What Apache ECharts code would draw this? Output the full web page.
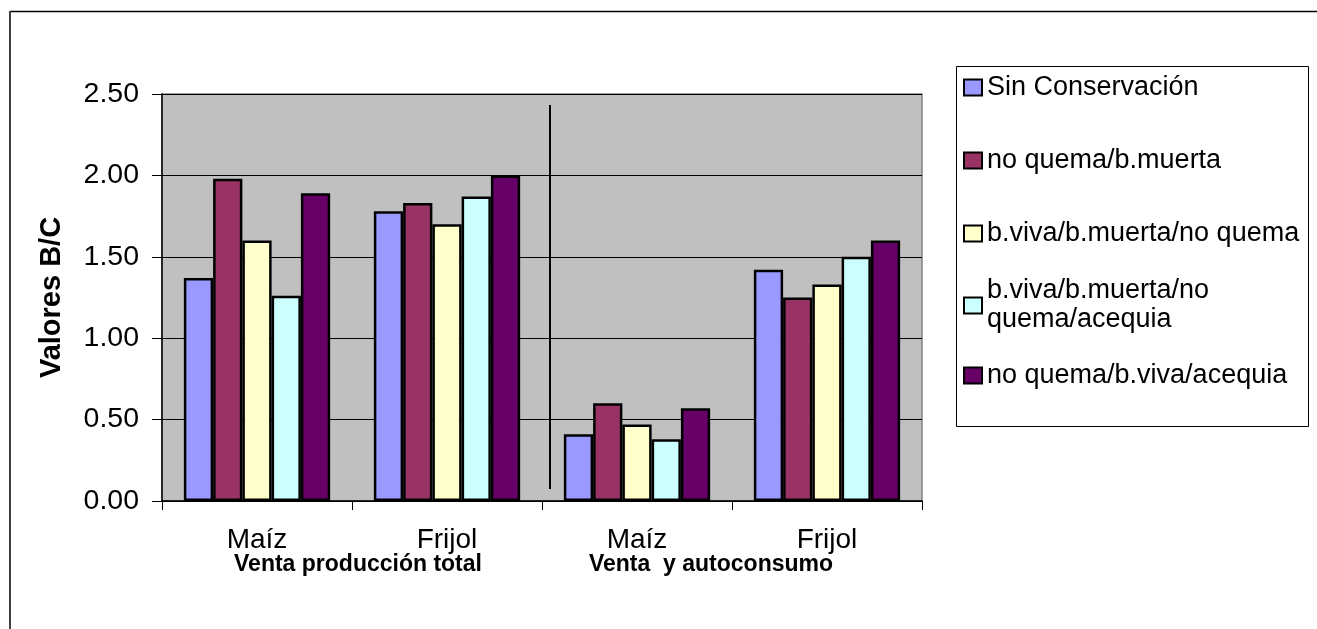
<!DOCTYPE html>
<html><head><meta charset="utf-8">
<script src="https://cdn.jsdelivr.net/npm/echarts@6/dist/echarts.min.js"></script>
<style>html,body{margin:0;padding:0;background:#fff}#c{width:1317px;height:629px}</style>
</head><body><div id="c"></div>
<script>
const categories = ['Maíz', 'Frijol', 'Maíz', 'Frijol'];
const groupLabels = ['Venta producción total', 'Venta  y autoconsumo'];
const seriesNames = ['Sin Conservación', 'no quema/b.muerta', 'b.viva/b.muerta/no quema', 'b.viva/b.muerta/no quema/acequia', 'no quema/b.viva/acequia'];
const sinConservacion = [1.37, 1.78, 0.41, 1.42];
const noQuemaBMuerta = [1.98, 1.83, 0.60, 1.25];
const bVivaBMuertaNoQuema = [1.60, 1.70, 0.47, 1.33];
const bVivaBMuertaNoQuemaAcequia = [1.26, 1.87, 0.38, 1.50];
const noQuemaBVivaAcequia = [1.89, 2.00, 0.57, 1.60];
const colors = ['#9999FF', '#993366', '#FFFFCC', '#CCFFFF', '#660066'];
const yAxisName = 'Valores B/C';

const FONT = "'Liberation Sans', Arial, sans-serif";
const values = [sinConservacion, noQuemaBMuerta, bVivaBMuertaNoQuema, bVivaBMuertaNoQuemaAcequia, noQuemaBVivaAcequia];

const chart = echarts.init(document.getElementById('c'), null, {renderer: 'canvas'});

const legendText = {fontSize: 27, lineHeight: 29, color: '#000', fontFamily: FONT};
const legendCommon = {
  orient: 'vertical', left: 963, padding: 0, icon: 'rect',
  itemWidth: 18, itemHeight: 16, selectedMode: false,
  itemStyle: {borderColor: '#000', borderWidth: 2},
  textStyle: legendText
};

const option = {
  animation: false,
  backgroundColor: '#fff',
  color: colors,
  grid: {left: 162, right: 395, top: 94, bottom: 128, show: true, backgroundColor: '#C0C0C0', borderColor: '#808080', borderWidth: 1.5},
  legend: [
    Object.assign({}, legendCommon, {top: 73, itemGap: 44, data: seriesNames.slice(0, 3)}),
    Object.assign({}, legendCommon, {top: 262, itemGap: 12,
      data: [{name: seriesNames[3], textStyle: {padding: [29, 0, 0, 0]}}, {name: seriesNames[4]}],
      formatter: function (n) { return n === seriesNames[3] ? 'b.viva/b.muerta/no\nquema/acequia' : n; }
    })
  ],
  xAxis: {
    type: 'category', data: categories, boundaryGap: true,
    axisLine: {lineStyle: {color: '#000', width: 1.5}},
    axisTick: {show: true, length: 9, inside: false, alignWithLabel: false, lineStyle: {color: '#000'}},
    axisLabel: {fontSize: 28, color: '#000', fontFamily: FONT, margin: 25},
    splitLine: {show: false}
  },
  yAxis: {
    type: 'value', min: 0, max: 2.5, interval: 0.5,
    name: yAxisName, nameLocation: 'middle', nameGap: 96,
    nameTextStyle: {fontSize: 29, fontWeight: 'bold', color: '#000', fontFamily: FONT},
    axisLine: {show: true, lineStyle: {color: '#000', width: 1.5}},
    axisTick: {show: true, length: 10, inside: false, lineStyle: {color: '#000'}},
    axisLabel: {fontSize: 28.5, color: '#000', fontFamily: FONT, margin: 23, formatter: v => v.toFixed(2)},
    splitLine: {show: true, lineStyle: {color: '#000', width: 1}}
  },
  series: seriesNames.map((name, i) => ({
    name: name, type: 'bar', data: values[i],
    barGap: '0%', barCategoryGap: '23%',
    itemStyle: {color: colors[i], borderColor: '#000', borderWidth: 2.5}
  })),
  graphic: [
    {type: 'line', shape: {x1: 10, y1: 11.5, x2: 1317, y2: 11.5}, style: {stroke: '#000', lineWidth: 1.5}},
    {type: 'line', shape: {x1: 10, y1: 11, x2: 10, y2: 629}, style: {stroke: '#404040', lineWidth: 2}},
    {type: 'rect', shape: {x: 956.5, y: 66.5, width: 352, height: 360}, style: {fill: 'none', stroke: '#000', lineWidth: 1}, z: -1},
    {type: 'line', shape: {x1: 550, y1: 105, x2: 550, y2: 489}, style: {stroke: '#000', lineWidth: 2}, z: 100},
    {type: 'text', x: 358, y: 565, style: {text: groupLabels[0], fontSize: 23, fontWeight: 'bold', fontFamily: FONT, fill: '#000', align: 'center', verticalAlign: 'middle'}},
    {type: 'text', x: 711, y: 565, style: {text: groupLabels[1], fontSize: 23, fontWeight: 'bold', fontFamily: FONT, fill: '#000', align: 'center', verticalAlign: 'middle'}}
  ]
};
chart.setOption(option);
</script>
</body></html>
